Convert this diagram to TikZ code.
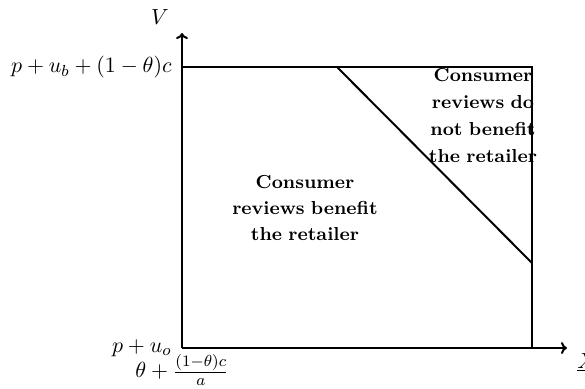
\documentclass[tikz,border=0pt]{standalone}
\usetikzlibrary{arrows.meta}
\begin{document}
\begin{tikzpicture}[x=0.5pt,y=-0.5pt,
  ax/.style={line width=1pt,-{To[length=3pt,width=6pt]}},
  bd/.style={line width=1pt},
  lab/.style={font=\fontsize{10.9}{13}\selectfont},
  region/.style={font=\fontsize{9.4}{13}\selectfont\bfseries,align=center,text width=75pt,inner sep=0pt}]
\useasboundingbox (0,0) rectangle (585,388);
\coordinate (O) at (182,348);
\coordinate (Ytop) at (182,33);
\coordinate (Xend) at (567,348);
\coordinate (TL) at (182,67);
\coordinate (TR) at (532,67);
\coordinate (BR) at (532,348);
\coordinate (D1) at (337,67);
\coordinate (D2) at (532,263);
\draw[ax] (O) -- (Ytop);
\draw[ax] (O) -- (Xend);
\node[lab] (V) at (160,17) {$V$};
\node[lab,anchor=base west,inner sep=0pt] (Xl) at (577,368) {$\underline{X}$};
\node[lab,anchor=east,inner sep=2pt] (top) at (176,67) {$p+u_b+(1-\theta)c$};
\node[lab,anchor=east,inner sep=2pt] (po) at (176,348) {$p+u_o$};
\node[lab] (th) at (182,370) {$\theta+\frac{(1-\theta)c}{a}$};
\node[region] (L) at (305,208) {Consumer\\reviews benefit\\the retailer};
\node[region,font=\fontsize{9.4}{13.5}\selectfont\bfseries] (R) at (483,115) {Consumer\\reviews do\\not benefit\\the retailer};
\draw[bd] (TL) -- (TR) -- (BR);
\draw[bd] (D1) -- (D2);
\end{tikzpicture}
\end{document}
